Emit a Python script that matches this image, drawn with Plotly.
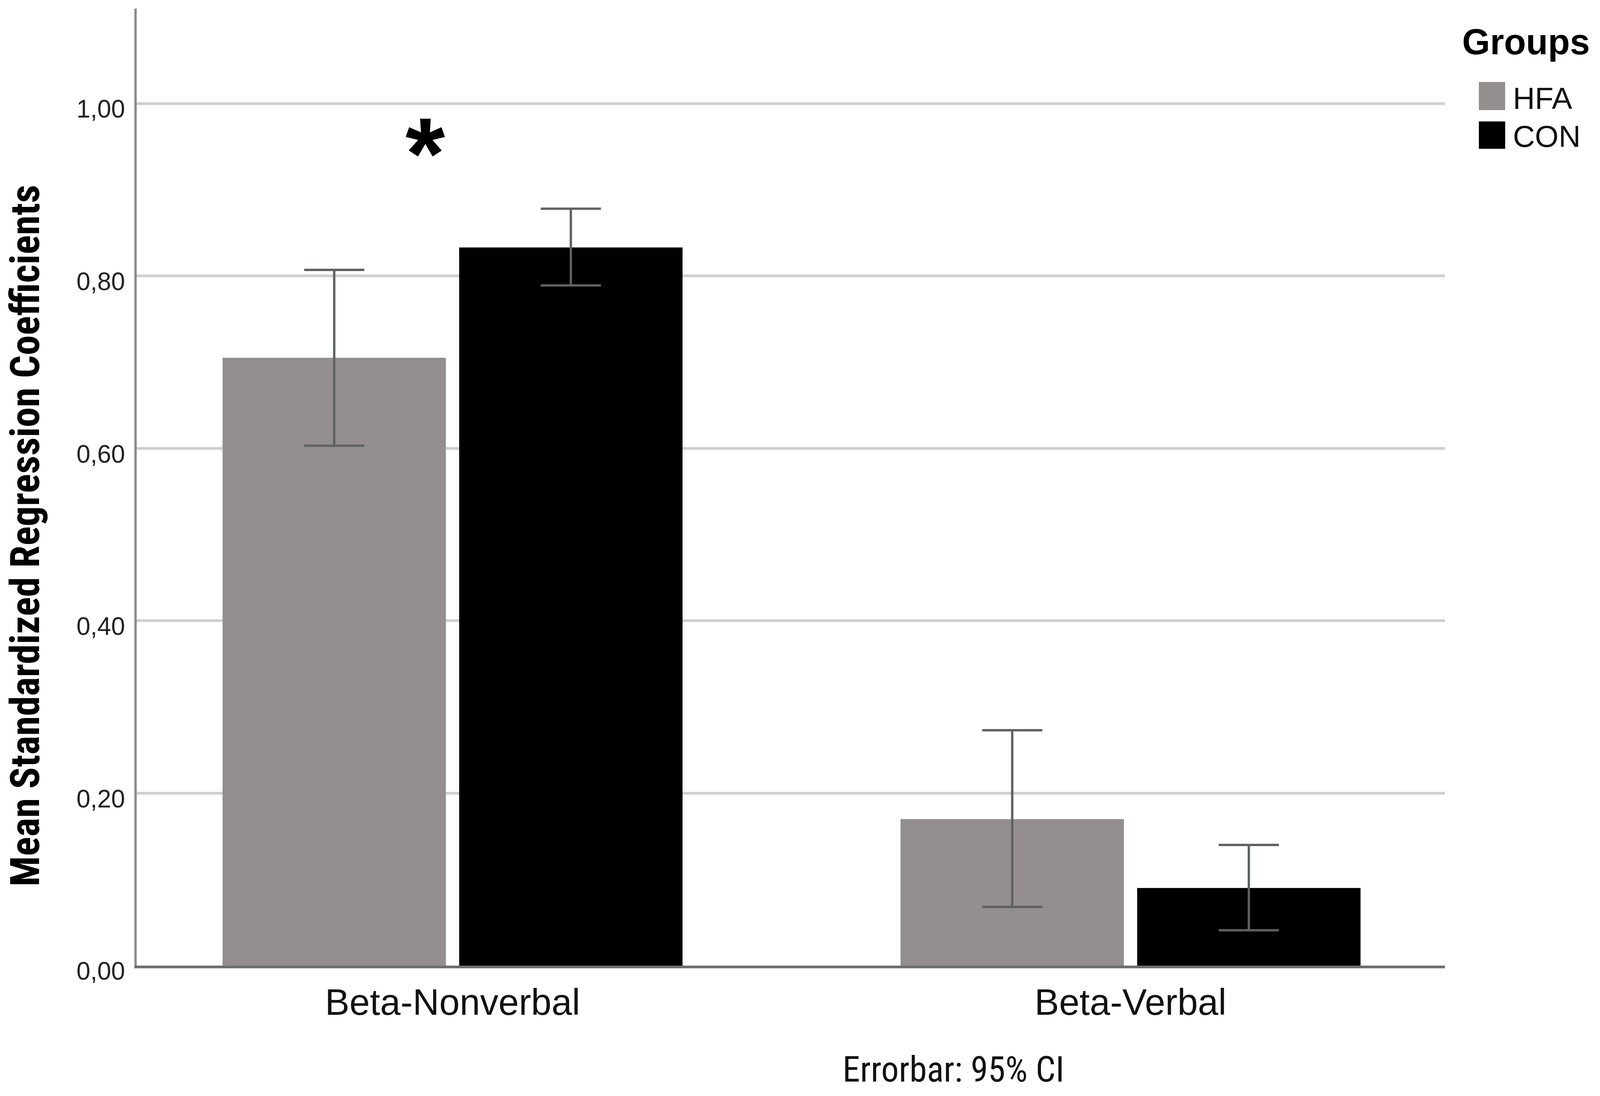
import plotly.graph_objects as go

# ---------------- data ----------------
categories = ["Beta-Nonverbal", "Beta-Verbal"]
groups = ["HFA", "CON"]
hfa_mean = [0.705, 0.170]
con_mean = [0.833, 0.090]
hfa_upper = [0.807, 0.273]
hfa_lower = [0.603, 0.068]
con_upper = [0.878, 0.140]
con_lower = [0.789, 0.041]
y_tickvals = [0.0, 0.2, 0.4, 0.6, 0.8, 1.0]

# ---------------- style ----------------
# the browser viewport is 4096 x 2807; lay the chart out proportionally
W, H = 4096, 2807
SX = W / 4319.0


def rx(px):
    """reference x pixel -> our x pixel"""
    return px * SX


ML = round(rx(369))
MR = W - round(rx(3900))
MT, MB = 22, 334
PW, PH = W - ML - MR, H - MT - MB
FONT = "Liberation Sans, Arial, sans-serif"
COND = "Roboto Condensed, Liberation Sans, Arial, sans-serif"
HFA_COLOR = "#948e8e"
CON_COLOR = "#000000"
ERR_COLOR = "#5d625f"


def px_x(px):
    return (rx(px) - ML) / PW


def px_y(py):
    return (H - MB - py) / PH


err_style = dict(type="data", symmetric=False, color=ERR_COLOR, thickness=6, width=round(rx(81)))

fig = go.Figure()
fig.add_trace(go.Bar(
    name=groups[0], x=categories, y=hfa_mean, marker_color=HFA_COLOR,
    marker_line_width=0,
    error_y=dict(array=[u - m for u, m in zip(hfa_upper, hfa_mean)],
                 arrayminus=[m - l for m, l in zip(hfa_mean, hfa_lower)], **err_style),
))
fig.add_trace(go.Bar(
    name=groups[1], x=categories, y=con_mean, marker_color=CON_COLOR,
    marker_line_width=0,
    error_y=dict(array=[u - m for u, m in zip(con_upper, con_mean)],
                 arrayminus=[m - l for m, l in zip(con_mean, con_lower)], **err_style),
))

y_top = PH / 2208.0

fig.update_layout(
    width=W, height=H, autosize=False,
    margin=dict(l=ML, r=MR, t=MT, b=MB, pad=0),
    paper_bgcolor="white", plot_bgcolor="white",
    barmode="group", bargap=0.302, bargroupgap=0.056,
    separators=",.",
    showlegend=False,
    font=dict(family=FONT, color="#000000"),
    xaxis=dict(
        type="category", range=[-0.4658, 1.4637],
        showline=True, linecolor="#6f6f6f", linewidth=7,
        showgrid=False, zeroline=False, ticks="",
        tickfont=dict(size=94, family=FONT, color="#111111"),
        ticklabelstandoff=6,
    ),
    yaxis=dict(
        range=[0, y_top], tickvals=y_tickvals, tickformat=".2f",
        showline=True, linecolor="#8c8c8c", linewidth=6,
        showgrid=True, gridcolor="#cfcfcf", gridwidth=7,
        zeroline=False, ticks="",
        tickfont=dict(size=64, family=FONT, color="#222222"),
        ticklabelstandoff=11, ticklabelshift=14,
    ),
)

# y-axis title
fig.add_annotation(
    text="<b>Mean Standardized Regression Coefficients</b>",
    xref="paper", yref="paper", x=px_x(68), y=px_y(1372),
    xanchor="center", yanchor="middle", textangle=-90, showarrow=False,
    font=dict(size=103, family=COND, color="#000000"),
)

# significance star
fig.add_annotation(
    text="<b>*</b>", x=-0.04, y=0.942, xref="x", yref="y",
    xanchor="center", yanchor="middle", showarrow=False,
    font=dict(size=260, family=FONT, color="#000000"),
)

# footnote
fig.add_annotation(
    text="Errorbar: 95% CI", xref="paper", yref="paper",
    x=px_x(2574), y=px_y(2739), xanchor="center", yanchor="middle",
    showarrow=False, font=dict(size=90, family=COND, color="#111111"),
)

# legend (drawn manually so swatches scale)
fig.add_annotation(
    text="<b>Groups</b>", xref="paper", yref="paper",
    x=px_x(3945), y=px_y(107), xanchor="left", yanchor="middle",
    showarrow=False, font=dict(size=92, family=FONT, color="#000000"),
)
legend_rows = [(groups[0], HFA_COLOR, 210, 282, 252), (groups[1], CON_COLOR, 311, 381, 349)]
for name, col, y0, y1, yc in legend_rows:
    fig.add_shape(type="rect", xref="paper", yref="paper",
                  x0=px_x(3992), x1=px_x(4063), y0=px_y(y1), y1=px_y(y0),
                  fillcolor=col, line_width=0)
    fig.add_annotation(
        text=name, xref="paper", yref="paper",
        x=px_x(4082), y=px_y(yc), xanchor="left", yanchor="middle",
        showarrow=False, font=dict(size=78, family=FONT, color="#111111"),
    )

fig.write_html("out.html", config={"displayModeBar": False},
               post_script="document.body.style.margin='0';")
